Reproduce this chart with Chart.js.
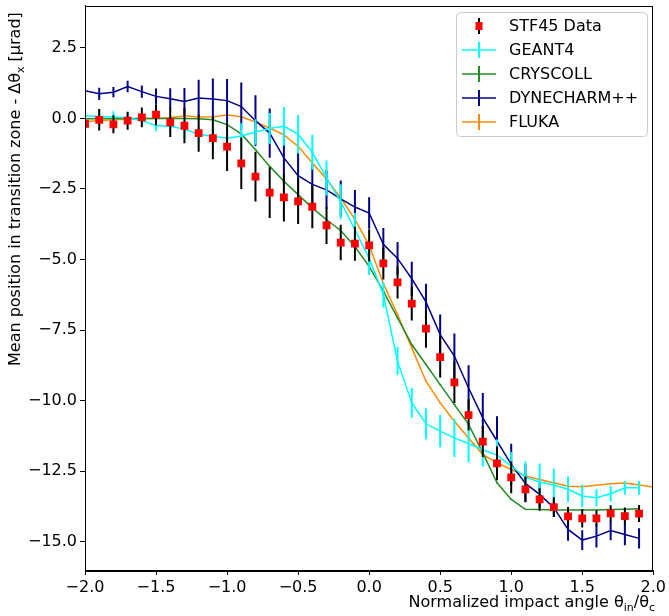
<!DOCTYPE html>
<html>
<head>
<meta charset="UTF-8">
<title>Mean position in transition zone</title>
<script src="https://cdn.jsdelivr.net/npm/chart.js"></script>
<style>
    body { margin: 0; background: #fff; }
    canvas { display: block; }
</style>
</head>
<body>
<canvas id="chart" width="669" height="616"></canvas>
<script>
// impact angle grid (theta_in / theta_c)
const angles = [-2.0, -1.9, -1.8, -1.7, -1.6, -1.5, -1.4, -1.3, -1.2, -1.1,
                -1.0, -0.9, -0.8, -0.7, -0.6, -0.5, -0.4, -0.3, -0.2, -0.1,
                 0.0,  0.1,  0.2,  0.3,  0.4,  0.5,  0.6,  0.7,  0.8,  0.9,
                 1.0,  1.1,  1.2,  1.3,  1.4,  1.5,  1.6,  1.7,  1.8,  1.9];
const flukaAngles = angles.concat([2.0]);

const stf45 = [-0.19, -0.05, -0.21, -0.08, 0.04, 0.13, -0.14, -0.26, -0.52, -0.70,
               -1.00, -1.59, -2.06, -2.63, -2.80, -2.94, -3.13, -3.79, -4.40, -4.44,
               -4.50, -5.14, -5.81, -6.56, -7.45, -8.46, -9.35, -10.51, -11.45, -12.22,
               -12.72, -13.14, -13.50, -13.77, -14.10, -14.17, -14.17, -13.99, -14.09, -14.00];
const stf45Err = [0.45, 0.38, 0.32, 0.32, 0.35, 0.37, 0.52, 0.62, 0.66, 0.75,
                  0.86, 0.91, 0.88, 0.90, 0.85, 0.80, 0.76, 0.66, 0.63, 0.60,
                  0.57, 0.57, 0.57, 0.60, 0.68, 0.72, 0.73, 0.55, 0.55, 0.60,
                  0.56, 0.45, 0.40, 0.35, 0.33, 0.32, 0.28, 0.28, 0.30, 0.30];

const geant4 = [0.09, 0.07, 0.05, 0.02, -0.08, -0.25, -0.28, -0.38, -0.56, -0.63,
                -0.70, -0.62, -0.48, -0.36, -0.28, -0.56, -1.20, -2.11, -2.95, -3.95,
                -4.95, -6.25, -8.60, -10.08, -10.82, -11.08, -11.32, -11.52, -11.74, -11.93,
                -12.32, -12.71, -12.88, -12.99, -13.14, -13.38, -13.44, -13.30, -13.09, -13.09];
const geant4Err = [0.30, 0.22, 0.20, 0.20, 0.20, 0.20, 0.20, 0.35, 0.30, 0.30,
                   0.40, 0.45, 0.45, 0.55, 0.68, 0.68, 0.62, 0.62, 0.62, 0.60,
                   0.60, 0.45, 0.50, 0.53, 0.55, 0.57, 0.68, 0.66, 0.60, 0.55,
                   0.50, 0.55, 0.65, 0.58, 0.45, 0.40, 0.30, 0.27, 0.24, 0.24];

const cryscoll = [-0.01, -0.01, 0.00, 0.00, 0.00, 0.00, 0.00, 0.00, -0.01, -0.05,
                  -0.22, -0.55, -1.11, -1.70, -2.23, -2.70, -3.17, -3.59, -3.97, -4.55,
                  -5.24, -6.12, -7.07, -8.01, -8.72, -9.43, -10.14, -10.84, -11.85, -12.91,
                  -13.50, -13.85, -13.86, -13.87, -13.87, -13.87, -13.87, -13.86, -13.85, -13.83];
const cryscollErr = [0.02, 0.02, 0.02, 0.02, 0.02, 0.02, 0.02, 0.02, 0.02, 0.02,
                     0.02, 0.02, 0.02, 0.02, 0.02, 0.02, 0.02, 0.02, 0.02, 0.02,
                     0.02, 0.02, 0.02, 0.02, 0.02, 0.02, 0.02, 0.02, 0.02, 0.02,
                     0.02, 0.02, 0.02, 0.02, 0.02, 0.02, 0.02, 0.02, 0.02, 0.02];

const dynecharm = [0.98, 0.87, 0.93, 1.13, 0.95, 0.78, 0.70, 0.60, 0.72, 0.69,
                   0.63, 0.42, -0.08, -0.52, -1.40, -2.03, -2.34, -2.53, -2.85, -3.14,
                   -3.35, -4.46, -4.96, -5.68, -6.50, -7.66, -8.42, -9.55, -10.61, -11.43,
                   -12.26, -12.93, -13.32, -13.79, -14.56, -14.94, -14.80, -14.60, -14.74, -14.88];
const dynecharmErr = [0.20, 0.22, 0.18, 0.20, 0.22, 0.28, 0.37, 0.48, 0.65, 0.72,
                      0.77, 0.85, 0.90, 0.87, 0.92, 0.80, 0.70, 0.68, 0.65, 0.60,
                      0.56, 0.58, 0.58, 0.60, 0.64, 0.71, 0.80, 0.80, 0.88, 0.88,
                      0.73, 0.67, 0.47, 0.32, 0.40, 0.35, 0.40, 0.35, 0.38, 0.36];

const fluka = [-0.11, -0.08, -0.05, -0.03, 0.00, 0.00, 0.02, 0.09, 0.05, 0.06,
               0.12, 0.06, -0.13, -0.34, -0.58, -0.99, -1.58, -2.15, -2.82, -3.58,
               -4.50, -5.85, -6.95, -8.13, -9.31, -10.08, -10.73, -11.32, -11.91, -12.20,
               -12.44, -12.67, -12.79, -12.91, -13.03, -13.05, -13.00, -12.94, -12.92, -12.99, -13.06];
const flukaErr = [0.02, 0.02, 0.02, 0.02, 0.02, 0.02, 0.02, 0.02, 0.02, 0.02,
                  0.02, 0.02, 0.02, 0.02, 0.02, 0.02, 0.02, 0.02, 0.02, 0.02,
                  0.02, 0.02, 0.02, 0.02, 0.02, 0.02, 0.02, 0.02, 0.02, 0.02,
                  0.02, 0.02, 0.02, 0.02, 0.02, 0.02, 0.02, 0.02, 0.02, 0.02, 0.02];

const xTicks = [-2.0, -1.5, -1.0, -0.5, 0.0, 0.5, 1.0, 1.5, 2.0];
const yTicks = [-15.0, -12.5, -10.0, -7.5, -5.0, -2.5, 0.0, 2.5];

const FONT = 'DejaVu Sans';

function pts(xs, ys) {
    return xs.map((x, i) => ({ x: x, y: ys[i] }));
}
function fmt(v) {
    return (v < 0 ? '\u2212' : '') + Math.abs(v).toFixed(1);
}

// vertical error bars, drawn just under each dataset
const errorBars = {
    id: 'errorBars',
    beforeDatasetDraw(chart, args) {
        const ds = chart.data.datasets[args.index];
        if (!ds.err) return;
        const y = chart.scales.y, a = chart.chartArea, ctx = chart.ctx;
        ctx.save();
        ctx.beginPath();
        ctx.rect(a.left, a.top, a.right - a.left, a.bottom - a.top);
        ctx.clip();
        ctx.strokeStyle = ds.errColor;
        ctx.lineWidth = 2;
        ctx.beginPath();
        args.meta.data.forEach((p, i) => {
            const v = ds.data[i].y, e = ds.err[i];
            ctx.moveTo(p.x, y.getPixelForValue(v - e));
            ctx.lineTo(p.x, y.getPixelForValue(v + e));
        });
        ctx.stroke();
        ctx.restore();
    }
};

// frame, legend and axis titles with subscripts
const decor = {
    id: 'decor',
    afterDraw(chart) {
        const ctx = chart.ctx, a = chart.chartArea;
        ctx.save();
        ctx.strokeStyle = '#000';
        ctx.lineWidth = 1;
        ctx.strokeRect(Math.round(a.left) + 0.5, Math.round(a.top) + 0.5,
                       Math.round(a.right - a.left) - 1, Math.round(a.bottom - a.top));

        // legend
        const lx = 456.5, ly = 12.5, lw = 191, lh = 124;
        ctx.fillStyle = 'rgba(255,255,255,0.8)';
        ctx.strokeStyle = '#cccccc';
        ctx.beginPath();
        ctx.roundRect(lx, ly, lw, lh, 4);
        ctx.fill();
        ctx.stroke();
        ctx.font = '16px ' + FONT;
        ctx.textBaseline = 'middle';
        ctx.textAlign = 'left';
        chart.data.datasets.forEach((ds, i) => {
            const cy = 26 + i * 24;
            const cx = 479;
            ctx.lineWidth = 2;
            ctx.strokeStyle = ds.errColor;
            ctx.beginPath();
            ctx.moveTo(cx, cy - 8);
            ctx.lineTo(cx, cy + 8);
            ctx.stroke();
            if (ds.showLine) {
                ctx.lineWidth = 1.5;
                ctx.strokeStyle = ds.borderColor;
                ctx.beginPath();
                ctx.moveTo(462, cy);
                ctx.lineTo(496, cy);
                ctx.stroke();
            } else {
                ctx.fillStyle = ds.backgroundColor;
                ctx.fillRect(cx - 3.5, cy - 4, 7, 8);
            }
            ctx.fillStyle = '#000';
            ctx.fillText(ds.label, 509, cy + 1);
        });

        // x title
        ctx.fillStyle = '#000';
        ctx.textBaseline = 'alphabetic';
        const parts = [['Normalized impact angle \u03b8', 16, 0], ['in', 11, 4],
                       ['/\u03b8', 16, 0], ['c', 11, 4]];
        let total = 0;
        parts.forEach(p => { ctx.font = p[1] + 'px ' + FONT; total += ctx.measureText(p[0]).width; });
        let x = 655 - total;
        parts.forEach(p => {
            ctx.font = p[1] + 'px ' + FONT;
            ctx.fillText(p[0], x, 607 + p[2]);
            x += ctx.measureText(p[0]).width;
        });

        // y title
        ctx.translate(20, 0);
        ctx.rotate(-Math.PI / 2);
        const yparts = [['Mean position in transition zone - \u0394\u03b8', 16, 0], ['x', 11, 4],
                        [' [\u03bcrad]', 16, 0]];
        let yx = -366;
        yparts.forEach(p => {
            ctx.font = p[1] + 'px ' + FONT;
            ctx.fillText(p[0], yx, p[2]);
            yx += ctx.measureText(p[0]).width;
        });
        ctx.restore();
    }
};

const model = (label, xs, ys, err, color) => ({
    label: label,
    data: pts(xs, ys),
    err: err,
    errColor: color,
    borderColor: color,
    backgroundColor: color,
    borderWidth: 1.5,
    showLine: true,
    pointRadius: 0,
    tension: 0
});

new Chart(document.getElementById('chart'), {
    type: 'scatter',
    data: {
        datasets: [
            {
                label: 'STF45 Data',
                data: pts(angles, stf45),
                err: stf45Err,
                errColor: '#000000',
                backgroundColor: '#ff0000',
                borderColor: '#ff0000',
                showLine: false,
                pointStyle: 'rect',
                pointRadius: 5.5,
                pointBorderWidth: 0
            },
            model('GEANT4', angles, geant4, geant4Err, '#00ffff'),
            model('CRYSCOLL', angles, cryscoll, cryscollErr, '#228b22'),
            model('DYNECHARM++', angles, dynecharm, dynecharmErr, '#00008b'),
            model('FLUKA', flukaAngles, fluka, flukaErr, '#ff8c00')
        ]
    },
    options: {
        responsive: false,
        animation: false,
        layout: { padding: { left: 0, right: 14, top: 5, bottom: 0 } },
        plugins: { legend: { display: false }, tooltip: { enabled: false } },
        scales: {
            x: {
                type: 'linear',
                min: -2, max: 2,
                afterFit(s) { s.height = 46; },
                afterBuildTicks(s) { s.ticks = xTicks.map(v => ({ value: v })); },
                grid: { drawOnChartArea: false, tickLength: 5, color: '#000', tickWidth: 1 },
                border: { color: '#000' },
                ticks: { color: '#000', font: { family: FONT, size: 16 }, padding: 3,
                         maxRotation: 0, callback: v => fmt(v) }
            },
            y: {
                type: 'linear',
                min: -16, max: 4,
                afterFit(s) { s.width = 85; s.paddingTop = 0; s.paddingBottom = 0; },
                afterBuildTicks(s) { s.ticks = yTicks.map(v => ({ value: v })); },
                grid: { drawOnChartArea: false, tickLength: 5, color: '#000', tickWidth: 1 },
                border: { color: '#000' },
                ticks: { color: '#000', font: { family: FONT, size: 16 }, padding: 3,
                         callback: v => fmt(v) }
            }
        }
    },
    plugins: [errorBars, decor]
});
</script>
</body>
</html>
